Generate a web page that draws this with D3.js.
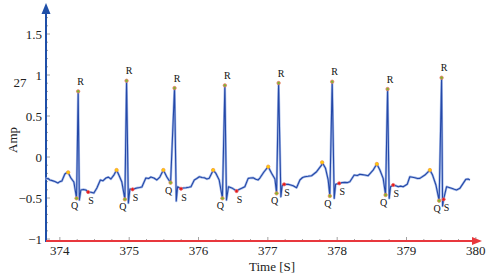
<!DOCTYPE html>
<html><head><meta charset="utf-8">
<script src="https://cdn.jsdelivr.net/npm/d3@7"></script>
<style>
html,body{margin:0;padding:0;background:#fff;}
svg{display:block;}
text{font-family:"Liberation Serif","Times New Roman",serif;}
</style></head>
<body><svg id="c" width="493" height="279"></svg>
<script>
// ECG signal samples (time in s, amplitude)
const sigTime = [373.791,373.830,373.856,373.890,373.928,373.971,374.000,374.029,374.072,374.115,374.159,374.202,374.241,374.264,374.281,374.303,374.340,374.375,374.408,374.450,374.490,374.534,374.584,374.620,374.664,374.700,374.736,374.779,374.818,374.851,374.894,374.938,374.962,374.988,375.010,375.049,375.080,375.111,375.150,375.183,375.240,375.280,375.313,375.356,375.399,375.442,375.493,375.543,375.597,375.654,375.679,375.698,375.747,375.780,375.819,375.860,375.891,375.939,375.975,376.011,376.050,376.083,376.120,376.154,376.201,376.211,376.250,376.298,376.345,376.380,376.403,376.432,376.490,376.549,376.585,376.621,376.668,376.716,376.750,376.788,376.825,376.860,376.885,376.943,377.005,377.054,377.102,377.126,377.155,377.188,377.206,377.235,377.293,377.330,377.365,377.414,377.462,377.500,377.534,377.580,377.631,377.703,377.775,377.783,377.832,377.870,377.894,377.928,377.957,377.977,378.029,378.070,378.111,378.150,378.183,378.245,378.290,378.327,378.360,378.399,378.447,378.519,378.572,378.616,378.663,378.698,378.727,378.750,378.770,378.808,378.845,378.880,378.915,378.952,379.010,379.048,379.085,379.121,379.160,379.193,379.265,379.337,379.376,379.424,379.471,379.506,379.520,379.535,379.578,379.615,379.650,379.690,379.722,379.769,379.817,379.855,379.889,379.914];
const sigAmp = [-0.268,-0.262,-0.280,-0.288,-0.299,-0.317,-0.300,-0.293,-0.207,-0.183,-0.256,-0.305,-0.504,0.801,-0.524,-0.402,-0.395,-0.402,-0.427,-0.430,-0.439,-0.378,-0.280,-0.290,-0.256,-0.245,-0.268,-0.220,-0.159,-0.220,-0.305,-0.516,0.930,-0.561,-0.390,-0.394,-0.385,-0.378,-0.372,-0.366,-0.256,-0.262,-0.244,-0.256,-0.280,-0.244,-0.159,-0.244,-0.313,0.841,-0.537,-0.362,-0.387,-0.378,-0.374,-0.368,-0.362,-0.280,-0.262,-0.240,-0.250,-0.252,-0.268,-0.260,-0.179,-0.159,-0.199,-0.280,-0.504,0.874,-0.524,-0.362,-0.382,-0.415,-0.395,-0.382,-0.362,-0.260,-0.255,-0.252,-0.270,-0.280,-0.256,-0.183,-0.118,-0.199,-0.268,-0.443,0.902,-0.484,-0.350,-0.333,-0.333,-0.342,-0.350,-0.374,-0.280,-0.250,-0.240,-0.235,-0.228,-0.179,-0.098,-0.065,-0.138,-0.280,-0.476,0.918,-0.504,-0.333,-0.321,-0.312,-0.309,-0.312,-0.301,-0.220,-0.226,-0.211,-0.215,-0.220,-0.228,-0.159,-0.085,-0.159,-0.260,-0.463,0.829,-0.504,-0.362,-0.341,-0.350,-0.362,-0.355,-0.362,-0.333,-0.240,-0.246,-0.252,-0.262,-0.260,-0.220,-0.159,-0.220,-0.341,-0.533,0.967,-0.598,-0.516,-0.362,-0.372,-0.382,-0.394,-0.402,-0.382,-0.321,-0.272,-0.268,-0.280];

// Fiducial points
const rTime = [374.264,374.962,375.654,376.380,377.155,377.928,378.727,379.506];
const rAmp  = [0.801,0.930,0.841,0.874,0.902,0.918,0.829,0.967];
const qTime = [374.241,374.938,375.597,376.345,377.126,377.894,378.698,379.471];
const qAmp  = [-0.504,-0.516,-0.313,-0.504,-0.443,-0.476,-0.463,-0.533];
const sTime = [374.408,375.049,375.747,376.549,377.235,378.029,378.808,379.535];
const sAmp  = [-0.427,-0.394,-0.387,-0.415,-0.333,-0.321,-0.341,-0.516];
const pTime = [374.120,374.818,375.493,376.211,377.005,377.783,378.572,379.337];
const pAmp  = [-0.187,-0.159,-0.159,-0.159,-0.118,-0.065,-0.085,-0.159];

const xTicks = [374,375,376,377,378,379,380];
const yTicks = [-1,-0.5,0,0.5,1,1.5];
const yTickLabels = ["\u22121","\u22120.5","0","0.5","1","1.5"];
const xTitle = "Time [S]";
const yTitle = "Amp";
const strayLabel = "27";

const svg = d3.select("#c");
const x = d3.scaleLinear().domain([373.8, 380.06]).range([46, 480]);
const y = d3.scaleLinear().domain([-1.024, 1.85]).range([241, 5.3]);
const X0 = x.range()[0], Y0 = y.range()[0];

const xMinor = d3.range(374, 380.001, 0.25);
const yMinor = d3.range(-1, 1.801, 0.1).map(v => +v.toFixed(2));

svg.append("g").selectAll("line").data(yMinor).join("line")
  .attr("x1", X0).attr("x2", d => X0 + (Math.abs(d*2 - Math.round(d*2)) < 1e-6 ? 4 : 2))
  .attr("y1", d => y(d)).attr("y2", d => y(d))
  .attr("stroke", "#8a8a8a").attr("stroke-width", 0.8);
svg.append("g").selectAll("text").data(yTicks).join("text")
  .attr("x", 42).attr("y", d => y(d) + 4.5)
  .attr("text-anchor", "end").attr("font-size", 13).attr("fill", "#222")
  .text((d, i) => yTickLabels[i]);

svg.append("g").selectAll("line").data(xMinor).join("line")
  .attr("x1", d => x(d)).attr("x2", d => x(d))
  .attr("y1", Y0).attr("y2", d => Y0 - (Math.abs(d - Math.round(d)) < 1e-6 ? 4 : 2))
  .attr("stroke", "#8a8a8a").attr("stroke-width", 0.8);
svg.append("g").selectAll("text").data(xTicks).join("text")
  .attr("x", d => x(d)).attr("y", 255)
  .attr("text-anchor", "middle").attr("font-size", 13).attr("fill", "#222")
  .text(d => d);

svg.append("line").attr("x1", X0).attr("x2", X0).attr("y1", Y0 + 1).attr("y2", 12)
  .attr("stroke", "#1f4fa8").attr("stroke-width", 2);
svg.append("path").attr("d", `M${X0-4.5},14 L${X0},3 L${X0+4.5},14 Z`).attr("fill", "#1f4fa8");
svg.append("line").attr("x1", X0).attr("x2", 474).attr("y1", Y0).attr("y2", Y0)
  .attr("stroke", "#e8383d").attr("stroke-width", 2);
svg.append("path").attr("d", `M472,${Y0-4} L482,${Y0} L472,${Y0+4} Z`).attr("fill", "#e8383d");

svg.append("text").attr("x", 272).attr("y", 271).attr("text-anchor", "middle")
  .attr("font-size", 13).attr("fill", "#222").text(xTitle);
svg.append("text").attr("transform", "translate(17,140) rotate(-90)").attr("text-anchor", "middle")
  .attr("font-size", 13).attr("fill", "#222").text(yTitle);
svg.append("text").attr("x", 20).attr("y", 87).attr("text-anchor", "middle")
  .attr("font-size", 13).attr("fill", "#222").text(strayLabel);

const sig = sigTime.map((t, i) => [t, sigAmp[i]]);
const line = d3.line().x(d => x(d[0])).y(d => y(d[1]));
svg.append("path").attr("d", line(sig)).attr("fill", "none")
  .attr("stroke", "#a9bde9").attr("stroke-width", 2.4).attr("stroke-linejoin", "round");
svg.append("path").attr("d", line(sig)).attr("fill", "none")
  .attr("stroke", "#2448a8").attr("stroke-width", 1.1).attr("stroke-linejoin", "round");

function marks(ts, vs, fill, stroke, r) {
  svg.append("g").selectAll("circle").data(ts.map((t, i) => [t, vs[i]])).join("circle")
    .attr("cx", d => x(d[0])).attr("cy", d => y(d[1])).attr("r", r)
    .attr("fill", fill).attr("stroke", stroke).attr("stroke-width", 0.8);
}
marks(pTime, pAmp, "#ffd000", "#f59a40", 1.7);
marks(sTime, sAmp, "#e01818", "#f06060", 1.6);
marks(qTime, qAmp, "#7cb82f", "#f08a50", 1.7);
marks(rTime, rAmp, "#7cb82f", "#f07a6a", 1.7);

function labels(ts, vs, txt, dx, dy) {
  svg.append("g").selectAll("text").data(ts.map((t, i) => [t, vs[i]])).join("text")
    .attr("x", d => x(d[0]) + dx).attr("y", d => y(d[1]) + dy)
    .attr("text-anchor", "middle").attr("font-size", 10).attr("fill", "#111").text(txt);
}
labels(rTime, rAmp, "R", 2.5, -6.5);
labels(qTime, qAmp, "Q", -2, 11);
labels(sTime, sAmp, "S", 3, 12);
</script></body></html>
